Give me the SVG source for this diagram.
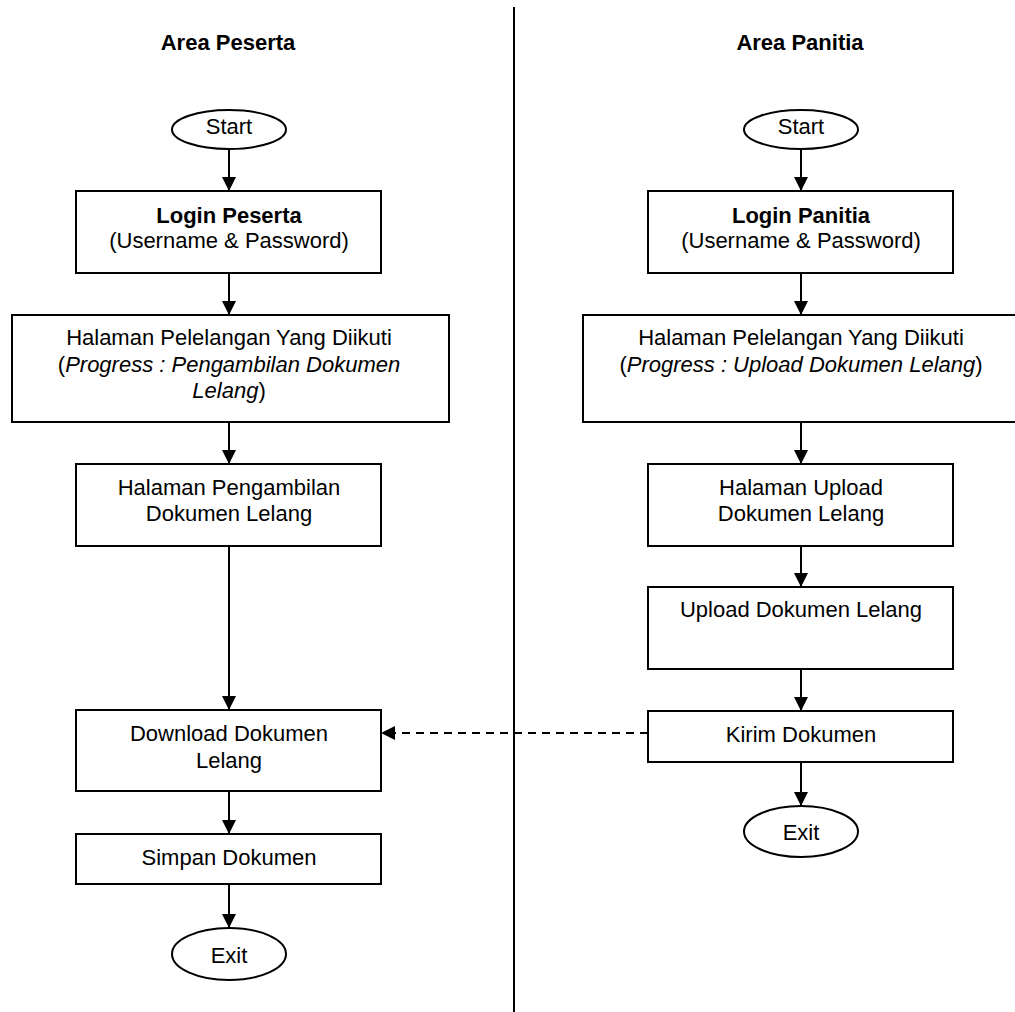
<svg xmlns="http://www.w3.org/2000/svg" width="1015" height="1012" viewBox="0 0 1015 1012">
<style>
text{font-family:"Liberation Sans",Arial,sans-serif;font-size:22px;fill:#000;text-anchor:middle}
.b{font-weight:bold}
.i{font-style:italic}
.box{fill:#fff;stroke:#000;stroke-width:2}
.con{stroke:#000;stroke-width:2;fill:none}
.dash{stroke-dasharray:8,6}
</style>
<defs>
<marker id="ah" viewBox="0 0 14 14" refX="14" refY="7" markerWidth="14" markerHeight="14" markerUnits="userSpaceOnUse" orient="auto">
<path d="M0,0 L14,7 L0,14 Z" fill="#000"/>
</marker>
</defs>
<rect width="1015" height="1012" fill="#fff"/>
<line x1="514" y1="7" x2="514" y2="1012" stroke="#000" stroke-width="2"/>
<text class="b" x="228" y="50">Area Peserta</text>
<text class="b" x="800" y="50">Area Panitia</text>

<g id="connectors">
<line class="con" x1="229" y1="149" x2="229" y2="191" marker-end="url(#ah)"/>
<line class="con" x1="229" y1="273" x2="229" y2="315" marker-end="url(#ah)"/>
<line class="con" x1="229" y1="422" x2="229" y2="464" marker-end="url(#ah)"/>
<line class="con" x1="229" y1="546" x2="229" y2="710" marker-end="url(#ah)"/>
<line class="con" x1="229" y1="791" x2="229" y2="834" marker-end="url(#ah)"/>
<line class="con" x1="229" y1="884" x2="229" y2="928" marker-end="url(#ah)"/>
<line class="con" x1="801" y1="149" x2="801" y2="191" marker-end="url(#ah)"/>
<line class="con" x1="801" y1="273" x2="801" y2="315" marker-end="url(#ah)"/>
<line class="con" x1="801" y1="422" x2="801" y2="464" marker-end="url(#ah)"/>
<line class="con" x1="801" y1="546" x2="801" y2="587" marker-end="url(#ah)"/>
<line class="con" x1="801" y1="669" x2="801" y2="711" marker-end="url(#ah)"/>
<line class="con" x1="801" y1="762" x2="801" y2="806" marker-end="url(#ah)"/>
<line class="con dash" x1="648" y1="733" x2="381" y2="733" marker-end="url(#ah)"/>
</g>

<g id="start-peserta"><ellipse class="box" cx="229" cy="129.5" rx="57" ry="19.5"/><text x="229" y="134">Start</text></g>
<g id="login-peserta"><rect class="box" x="76" y="191" width="305" height="82"/><text class="b" x="229" y="223">Login Peserta</text><text x="229" y="248">(Username &amp; Password)</text></g>
<g id="halaman-pelelangan-peserta"><rect class="box" x="12" y="315" width="437" height="107"/><text x="229" y="345">Halaman Pelelangan Yang Diikuti</text><text x="229" y="371.5">(<tspan class="i">Progress : Pengambilan Dokumen</tspan></text><text x="229" y="398"><tspan class="i">Lelang</tspan>)</text></g>
<g id="halaman-pengambilan"><rect class="box" x="76" y="464" width="305" height="82"/><text x="229" y="495">Halaman Pengambilan</text><text x="229" y="521">Dokumen Lelang</text></g>
<g id="download"><rect class="box" x="76" y="710" width="305" height="81"/><text x="229" y="741">Download Dokumen</text><text x="229" y="768">Lelang</text></g>
<g id="simpan"><rect class="box" x="76" y="834" width="305" height="50"/><text x="229" y="865">Simpan Dokumen</text></g>
<g id="exit-peserta"><ellipse class="box" cx="229" cy="954" rx="57" ry="26"/><text x="229" y="963">Exit</text></g>

<g id="start-panitia"><ellipse class="box" cx="801" cy="129.5" rx="57" ry="19.5"/><text x="801" y="134">Start</text></g>
<g id="login-panitia"><rect class="box" x="648" y="191" width="305" height="82"/><text class="b" x="801" y="223">Login Panitia</text><text x="801" y="248">(Username &amp; Password)</text></g>
<g id="halaman-pelelangan-panitia"><rect class="box" x="583" y="315" width="440" height="107"/><text x="801" y="345">Halaman Pelelangan Yang Diikuti</text><text x="801" y="371.5">(<tspan class="i">Progress : Upload Dokumen Lelang</tspan>)</text></g>
<g id="halaman-upload"><rect class="box" x="648" y="464" width="305" height="82"/><text x="801" y="495">Halaman Upload</text><text x="801" y="521">Dokumen Lelang</text></g>
<g id="upload"><rect class="box" x="648" y="587" width="305" height="82"/><text x="801" y="617">Upload Dokumen Lelang</text></g>
<g id="kirim"><rect class="box" x="648" y="711" width="305" height="51"/><text x="801" y="742">Kirim Dokumen</text></g>
<g id="exit-panitia"><ellipse class="box" cx="801" cy="831.5" rx="57" ry="25.5"/><text x="801" y="840">Exit</text></g>
</svg>
